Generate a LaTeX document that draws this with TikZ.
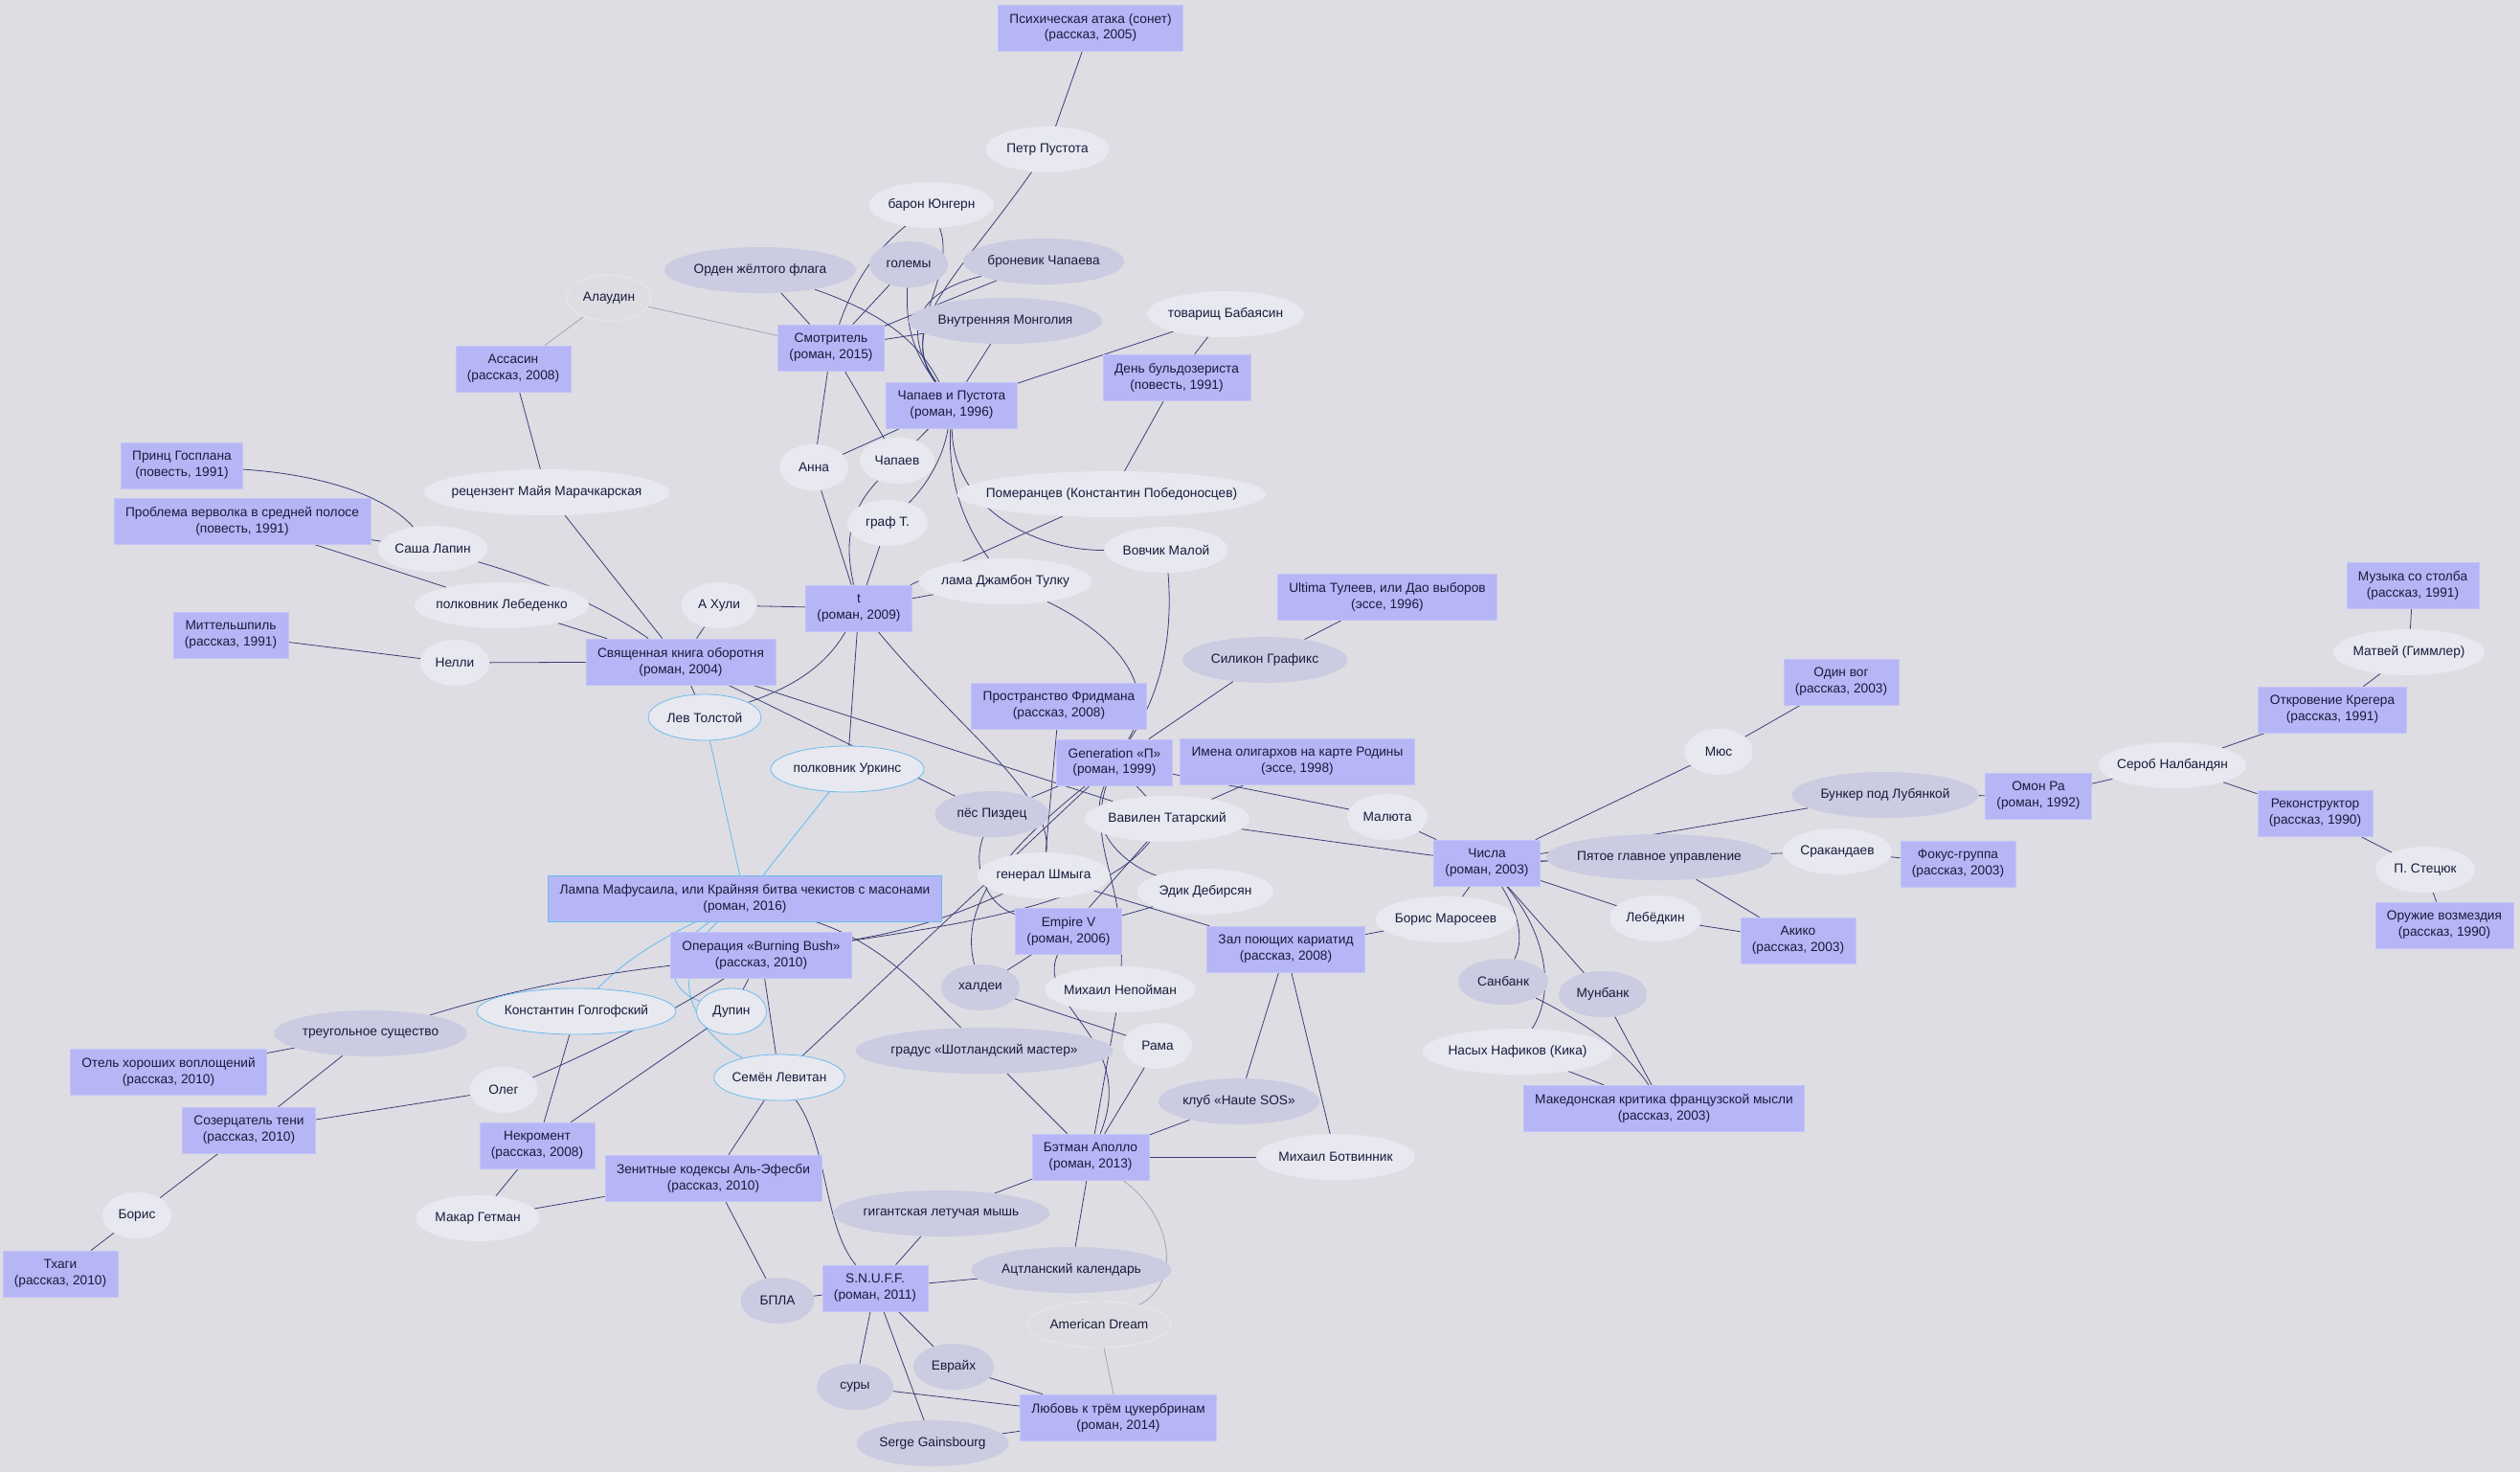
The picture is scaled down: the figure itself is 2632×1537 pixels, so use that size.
\documentclass[tikz,border=0pt]{standalone}
\usepackage{fontspec}
\setmainfont{Liberation Sans}
\usepackage{tikz}
\usetikzlibrary{shapes.geometric, backgrounds}

\definecolor{paper}{HTML}{DDDDE3}
\definecolor{workfill}{HTML}{B6B6F6}
\definecolor{workline}{HTML}{C4C4F7}
\definecolor{personfill}{HTML}{E8E8F0}
\definecolor{thingfill}{HTML}{CBCBE1}
\definecolor{linkcol}{HTML}{3C3C78}
\definecolor{lampblue}{HTML}{6CBCEE}
\definecolor{greyline}{HTML}{A4A4B0}
\definecolor{faintline}{HTML}{E8E8EE}
\definecolor{inkcol}{HTML}{1A1A3C}

\begin{document}
\begin{tikzpicture}[
    x=0.2mm, y=-0.2mm,
    font=\fontsize{7.8}{9.6}\selectfont,
    text=inkcol,
    work/.style={
        rectangle,
        fill=workfill,
        draw=workline,
        line width=0.4pt,
        align=center,
        inner xsep=2.4mm,
        inner ysep=0pt,
        minimum height=9.6mm
    },
    oval/.style={
        ellipse,
        inner sep=0pt,
        minimum height=9.6mm,
        execute at begin node={\hbox to 0pt\bgroup\hss},
        execute at end node={\hss\egroup}
    },
    person/.style={oval, fill=personfill},
    thing/.style={oval, fill=thingfill},
    lampchar/.style={oval, fill=personfill, draw=lampblue, line width=0.45pt},
    faint/.style={oval, fill=paper, draw=faintline, line width=0.45pt},
    link/.style={draw=linkcol, line width=0.45pt},
    bluelink/.style={draw=lampblue, line width=0.5pt},
    greylink/.style={draw=greyline, line width=0.45pt}
]

\useasboundingbox (0,0) rectangle (2632,1537);

% works
\node[work] (psy) at (1139,29) {Психическая атака (сонет)\\(рассказ, 2005)};
\node[work] (smotr) at (868,363) {Смотритель\\(роман, 2015)};
\node[work] (chip) at (994,423) {Чапаев и Пустота\\(роман, 1996)};
\node[work] (bulld) at (1229,394) {День бульдозериста\\(повесть, 1991)};
\node[work] (assasin) at (536,385) {Ассасин\\(рассказ, 2008)};
\node[work] (gosplan) at (190,486) {Принц Госплана\\(повесть, 1991)};
\node[work] (verv) at (253,544) {Проблема верволка в средней полосе\\(повесть, 1991)};
\node[work] (mittel) at (241,663) {Миттельшпиль\\(рассказ, 1991)};
\node[work] (sviash) at (711,691) {Священная книга оборотня\\(роман, 2004)};
\node[work] (tbook) at (897,635) {t\\(роман, 2009)};
\node[work] (ultima) at (1449,623) {Ultima Тулеев, или Дао выборов\\(эссе, 1996)};
\node[work] (fried) at (1106,737) {Пространство Фридмана\\(рассказ, 2008)};
\node[work] (genp) at (1164,796) {Generation «П»\\(роман, 1999)};
\node[work] (imena) at (1355,795) {Имена олигархов на карте Родины\\(эссе, 1998)};
\node[work] (empire) at (1116,972) {Empire V\\(роман, 2006)};
\node[work] (zal) at (1343,991) {Зал поющих кариатид\\(рассказ, 2008)};
\node[work] (chisla) at (1553,901) {Числа\\(роман, 2003)};
\node[work, draw=lampblue] (lampa) at (778,938) {Лампа Мафусаила, или Крайняя битва чекистов с масонами\\(роман, 2016)};
\node[work] (oper) at (795,997) {Операция «Burning Bush»\\(рассказ, 2010)};
\node[work] (otel) at (176,1119) {Отель хороших воплощений\\(рассказ, 2010)};
\node[work] (sozerc) at (260,1180) {Созерцатель тени\\(рассказ, 2010)};
\node[work] (nekro) at (561,1196) {Некромент\\(рассказ, 2008)};
\node[work] (zenit) at (745,1230) {Зенитные кодексы Аль-Эфесби\\(рассказ, 2010)};
\node[work] (thagi) at (63,1330) {Тхаги\\(рассказ, 2010)};
\node[work] (snuff) at (914,1345) {S.N.U.F.F.\\(роман, 2011)};
\node[work] (batman) at (1139,1208) {Бэтман Аполло\\(роман, 2013)};
\node[work] (lubov) at (1168,1480) {Любовь к трём цукербринам\\(роман, 2014)};
\node[work] (maked) at (1738,1157) {Македонская критика французской мысли\\(рассказ, 2003)};
\node[work] (akiko) at (1878,982) {Акико\\(рассказ, 2003)};
\node[work] (fokus) at (2045,902) {Фокус-группа\\(рассказ, 2003)};
\node[work] (omon) at (2129,831) {Омон Ра\\(роман, 1992)};
\node[work] (odin) at (1923,712) {Один вог\\(рассказ, 2003)};
\node[work] (otkrov) at (2436,741) {Откровение Крегера\\(рассказ, 1991)};
\node[work] (muzyka) at (2520,611) {Музыка со столба\\(рассказ, 1991)};
\node[work] (rekon) at (2418,849) {Реконструктор\\(рассказ, 1990)};
\node[work] (oruzh) at (2553,966) {Оружие возмездия\\(рассказ, 1990)};

% characters and things
\node[person, minimum width=25.8mm] (pustota) at (1094,156) {Петр Пустота};
\node[person, minimum width=26mm] (baron) at (973,214) {барон Юнгерн};
\node[thing, minimum width=16.4mm] (golemy) at (949,276) {големы};
\node[thing, minimum width=33.6mm] (bronev) at (1090,273) {броневик Чапаева};
\node[thing, minimum width=40mm] (orden) at (794,282) {Орден жёлтого флага};
\node[thing, minimum width=40.4mm] (mongol) at (1050,335) {Внутренняя Монголия};
\node[person, minimum width=32.8mm] (babaj) at (1280,328) {товарищ Бабаясин};
\node[faint, minimum width=17.6mm] (alaud) at (636,311) {Алаудин};
\node[person, minimum width=14.4mm] (anna) at (850,488) {Анна};
\node[person, minimum width=15.6mm] (chapaev) at (937,481) {Чапаев};
\node[person, minimum width=16.8mm] (graf) at (927,546) {граф Т.};
\node[person, minimum width=64.6mm] (pomer) at (1161,516) {Померанцев (Константин Победоносцев)};
\node[person, minimum width=25.8mm] (vovchik) at (1218,574) {Вовчик Малой};
\node[person, minimum width=36.2mm] (lama) at (1050,607) {лама Джамбон Тулку};
\node[thing, minimum width=34.4mm] (silikon) at (1321,689) {Силикон Графикс};
\node[person, minimum width=51.4mm] (recenz) at (571,514) {рецензент Майя Марачкарская};
\node[person, minimum width=22.8mm] (sasha) at (452,573) {Саша Лапин};
\node[person, minimum width=36.4mm] (lebed) at (524,632) {полковник Лебеденко};
\node[person, minimum width=15.7mm] (ahuli) at (751,632) {А Хули};
\node[person, minimum width=14.4mm] (nelli) at (475,692) {Нелли};
\node[lampchar, minimum width=23.6mm] (tolstoy) at (736,749) {Лев Толстой};
\node[lampchar, minimum width=32mm] (urkins) at (885,803) {полковник Уркинс};
\node[thing, minimum width=23.8mm] (pizdec) at (1036,850) {пёс Пиздец};
\node[person, minimum width=34.4mm] (vavilen) at (1219,855) {Вавилен Татарский};
\node[person, minimum width=16.8mm] (maluta) at (1449,853) {Малюта};
\node[person, minimum width=27.6mm] (shmyga) at (1090,914) {генерал Шмыга};
\node[person, minimum width=28.4mm] (edik) at (1259,931) {Эдик Дебирсян};
\node[person, minimum width=29.5mm] (maros) at (1510,960) {Борис Маросеев};
\node[thing, minimum width=16.4mm] (haldei) at (1024,1031) {халдеи};
\node[person, minimum width=31.4mm] (nepoim) at (1170,1033) {Михаил Непойман};
\node[person, minimum width=14.4mm] (rama) at (1209,1092) {Рама};
\node[thing, minimum width=53.8mm] (gradus) at (1028,1097) {градус «Шотландский мастер»};
\node[thing, minimum width=33.6mm] (haute) at (1294,1150) {клуб «Haute SOS»};
\node[thing, minimum width=18.8mm] (sanbank) at (1570,1025) {Санбанк};
\node[person, minimum width=39.6mm] (nasyh) at (1585,1098) {Насых Нафиков (Кика)};
\node[thing, minimum width=18.4mm] (munbank) at (1674,1038) {Мунбанк};
\node[thing, minimum width=47.2mm] (pyatoe) at (1733,895) {Пятое главное управление};
\node[person, minimum width=19.2mm] (lebedkin) at (1729,959) {Лебёдкин};
\node[person, minimum width=22.8mm] (srak) at (1919,889) {Сракандаев};
\node[thing, minimum width=39mm] (bunker) at (1969,830) {Бункер под Лубянкой};
\node[person, minimum width=14.3mm] (mus) at (1795,785) {Мюс};
\node[person, minimum width=30.8mm] (serob) at (2269,799) {Сероб Налбандян};
\node[person, minimum width=31.6mm] (matvei) at (2516,681) {Матвей (Гиммлер)};
\node[person, minimum width=20.8mm] (stetsuk) at (2533,908) {П. Стецюк};
\node[lampchar, minimum width=41.6mm] (golgof) at (602,1056) {Константин Голгофский};
\node[lampchar, minimum width=14.6mm] (dupin) at (764,1056) {Дупин};
\node[lampchar, minimum width=27.3mm] (levitan) at (814,1125) {Семён Левитан};
\node[thing, minimum width=40.3mm] (treug) at (387,1079) {треугольное существо};
\node[person, minimum width=14.2mm] (oleg) at (526,1138) {Олег};
\node[person, minimum width=14.4mm] (boris) at (143,1269) {Борис};
\node[person, minimum width=25.8mm] (makar) at (499,1272) {Макар Гетман};
\node[thing, minimum width=15.4mm] (bpla) at (812,1358) {БПЛА};
\node[thing, minimum width=45.2mm] (letuch) at (983,1267) {гигантская летучая мышь};
\node[thing, minimum width=41.8mm] (aztlan) at (1119,1326) {Ацтланский календарь};
\node[person, minimum width=33.1mm] (botvin) at (1395,1208) {Михаил Ботвинник};
\node[faint, minimum width=30mm] (amdream) at (1148,1383) {American Dream};
\node[thing, minimum width=16.8mm] (evraih) at (996,1427) {Еврайх};
\node[thing, minimum width=16mm] (sury) at (893,1448) {суры};
\node[thing, minimum width=31.8mm] (serge) at (974,1507) {Serge Gainsbourg};

\begin{scope}[on background layer]
\fill[paper] (0,0) rectangle (2632,1537);

% Чапаев и Пустота, Смотритель
\draw[link] (psy) -- (pustota);
\draw[link] (pustota) .. controls (1000,290) and (935,340) .. (chip);
\draw[link] (baron) .. controls (1000,290) and (938,345) .. (chip);
\draw[link] (baron) .. controls (910,265) and (890,300) .. (smotr);
\draw[link] (golemy) .. controls (945,350) and (960,375) .. (chip);
\draw[link] (golemy) -- (smotr);
\draw[link] (orden) -- (smotr);
\draw[link] (orden) .. controls (930,330) and (960,360) .. (chip);
\draw[link] (bronev) -- (smotr);
\draw[link] (bronev) .. controls (955,305) and (942,345) .. (chip);
\draw[link] (mongol) -- (smotr);
\draw[link] (mongol) -- (chip);
\draw[link] (babaj) -- (chip);
\draw[link] (babaj) -- (bulld);
\draw[link] (bulld) -- (pomer);
\draw[greylink] (alaud) -- (smotr);
\draw[greylink] (alaud) -- (assasin);
\draw[link] (assasin) -- (recenz);
\draw[link] (recenz) -- (sviash);
\draw[link] (smotr) -- (anna);
\draw[link] (smotr) -- (chapaev);
\draw[link] (chip) -- (anna);
\draw[link] (chip) -- (chapaev);
\draw[link] (chip) .. controls (985,480) and (965,510) .. (graf);
\draw[link] (chip) .. controls (990,500) and (1005,545) .. (lama);
\draw[link] (chip) .. controls (995,530) and (1080,575) .. (vovchik);

% t
\draw[link] (anna) -- (tbook);
\draw[link] (chapaev) .. controls (880,540) and (885,580) .. (tbook);
\draw[link] (graf) -- (tbook);
\draw[link] (pomer) -- (tbook);
\draw[link] (lama) -- (tbook);
\draw[link] (ahuli) -- (tbook);
\draw[link] (tbook) .. controls (860,700) and (820,720) .. (tolstoy);
\draw[link] (tbook) -- (urkins);
\draw[link] (tbook) .. controls (1000,760) and (1100,830) .. (shmyga);
\draw[link] (lama) .. controls (1170,665) and (1210,720) .. (genp);
\draw[link] (vovchik) .. controls (1225,660) and (1215,720) .. (genp);
\draw[link] (ultima) -- (silikon);
\draw[link] (silikon) -- (genp);
\draw[link] (fried) -- (shmyga);

% Священная книга оборотня
\draw[link] (gosplan) .. controls (330,495) and (400,515) .. (sasha);
\draw[link] (verv) -- (sasha);
\draw[link] (verv) -- (lebed);
\draw[link] (sasha) .. controls (580,610) and (640,640) .. (sviash);
\draw[link] (lebed) -- (sviash);
\draw[link] (mittel) -- (nelli);
\draw[link] (nelli) -- (sviash);
\draw[link] (ahuli) -- (sviash);
\draw[link] (tolstoy) -- (sviash);
\draw[link] (sviash) -- (pizdec);
\draw[link] (sviash) -- (vavilen);

% Лампа Мафусаила
\draw[bluelink] (tolstoy) -- (lampa);
\draw[bluelink] (urkins) -- (lampa);
\draw[bluelink] (lampa) .. controls (680,985) and (645,1010) .. (golgof);
\draw[bluelink] (lampa) .. controls (685,1000) and (700,1035) .. (dupin);
\draw[bluelink] (lampa) .. controls (695,1010) and (720,1075) .. (levitan);
\draw[link] (lampa) .. controls (920,985) and (960,1030) .. (gradus);

% Операция «Burning Bush»
\draw[link] (oper) .. controls (600,1020) and (520,1038) .. (treug);
\draw[link] (oper) .. controls (720,1045) and (650,1085) .. (oleg);
\draw[link] (oper) -- (dupin);
\draw[link] (oper) -- (levitan);
\draw[link] (oper) .. controls (960,970) and (1010,950) .. (shmyga);
\draw[link] (oper) .. controls (1000,965) and (1150,945) .. (vavilen);

% bottom left
\draw[link] (treug) -- (otel);
\draw[link] (treug) -- (sozerc);
\draw[link] (oleg) -- (sozerc);
\draw[link] (sozerc) -- (boris);
\draw[link] (boris) -- (thagi);
\draw[link] (golgof) -- (nekro);
\draw[link] (dupin) -- (nekro);
\draw[link] (nekro) -- (makar);
\draw[link] (makar) -- (zenit);
\draw[link] (levitan) -- (zenit);
\draw[link] (levitan) .. controls (865,1195) and (860,1280) .. (snuff);
\draw[link] (levitan) -- (genp);
\draw[link] (zenit) -- (bpla);
\draw[link] (bpla) -- (snuff);

% Generation «П», Empire V, Бэтман Аполло
\draw[link] (genp) -- (pizdec);
\draw[link] (genp) -- (vavilen);
\draw[link] (genp) -- (maluta);
\draw[link] (genp) .. controls (1060,880) and (1000,940) .. (haldei);
\draw[link] (genp) .. controls (1135,880) and (1175,920) .. (nepoim);
\draw[link] (genp) .. controls (1132,870) and (1180,905) .. (edik);
\draw[link] (pizdec) .. controls (1015,905) and (1030,945) .. (empire);
\draw[link] (imena) -- (vavilen);
\draw[link] (empire) -- (vavilen);
\draw[link] (empire) -- (edik);
\draw[link] (empire) -- (haldei);
\draw[link] (empire) .. controls (1080,1050) and (1190,1085) .. (batman);
\draw[link] (haldei) -- (rama);
\draw[link] (nepoim) -- (batman);
\draw[link] (rama) -- (batman);
\draw[link] (gradus) -- (batman);
\draw[link] (zal) -- (shmyga);
\draw[link] (zal) -- (maros);
\draw[link] (zal) -- (haute);
\draw[link] (zal) -- (botvin);
\draw[link] (haute) -- (batman);
\draw[link] (batman) -- (botvin);
\draw[link] (batman) -- (letuch);
\draw[link] (batman) -- (aztlan);
\draw[greylink] (batman) .. controls (1225,1270) and (1235,1340) .. (amdream);
\draw[greylink] (amdream) -- (lubov);
\draw[link] (snuff) -- (letuch);
\draw[link] (snuff) -- (aztlan);
\draw[link] (snuff) -- (sury);
\draw[link] (snuff) -- (evraih);
\draw[link] (snuff) -- (serge);
\draw[link] (sury) -- (lubov);
\draw[link] (evraih) -- (lubov);
\draw[link] (serge) -- (lubov);

% Числа and the right side
\draw[link] (vavilen) -- (chisla);
\draw[link] (maluta) -- (chisla);
\draw[link] (maros) -- (chisla);
\draw[link] (chisla) -- (mus);
\draw[link] (mus) -- (odin);
\draw[link] (chisla) -- (bunker);
\draw[link] (chisla) -- (srak);
\draw[link] (chisla) -- (pyatoe);
\draw[link] (chisla) -- (lebedkin);
\draw[link] (chisla) .. controls (1590,960) and (1590,985) .. (sanbank);
\draw[link] (chisla) -- (munbank);
\draw[link] (chisla) .. controls (1615,975) and (1625,1035) .. (nasyh);
\draw[link] (sanbank) .. controls (1660,1070) and (1700,1100) .. (maked);
\draw[link] (munbank) -- (maked);
\draw[link] (nasyh) -- (maked);
\draw[link] (pyatoe) -- (akiko);
\draw[link] (lebedkin) -- (akiko);
\draw[link] (srak) -- (fokus);
\draw[link] (bunker) -- (omon);
\draw[link] (omon) -- (serob);
\draw[link] (serob) -- (otkrov);
\draw[link] (serob) -- (rekon);
\draw[link] (rekon) -- (stetsuk);
\draw[link] (stetsuk) -- (oruzh);
\draw[link] (otkrov) -- (matvei);
\draw[link] (matvei) -- (muzyka);
\end{scope}

\end{tikzpicture}
\end{document}
